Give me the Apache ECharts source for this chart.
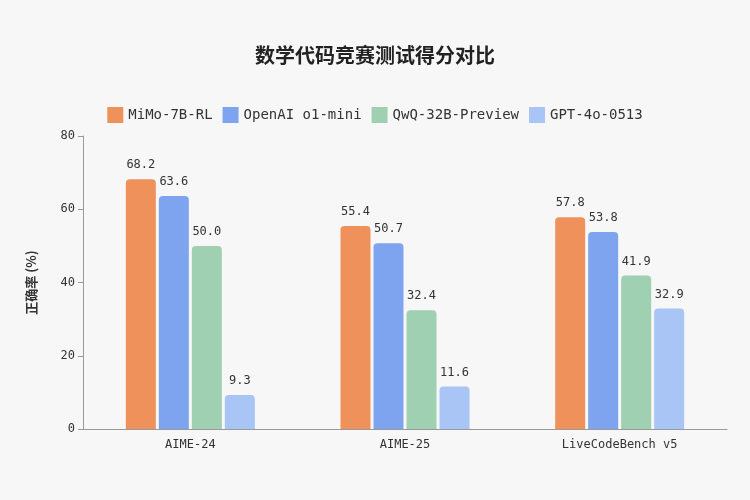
<!DOCTYPE html>
<html><head><meta charset="utf-8">
<script src="https://cdn.jsdelivr.net/npm/echarts@6/dist/echarts.min.js"></script>
<style>html,body{margin:0;background:#f7f7f7}#main{width:750px;height:500px}</style>
</head><body><div id="main"></div>
<script>
var categories = ['AIME-24', 'AIME-25', 'LiveCodeBench v5'];
var seriesNames = ['MiMo-7B-RL', 'OpenAI o1-mini', 'QwQ-32B-Preview', 'GPT-4o-0513'];
var mimo = [68.2, 55.4, 57.8];
var o1mini = [63.6, 50.7, 53.8];
var qwq = [50.0, 32.4, 41.9];
var gpt4o = [9.3, 11.6, 32.9];
var colors = ['#ef915b', '#7ea3ef', '#9fd0b1', '#a8c5f6'];
var mono = '"DejaVu Sans Mono", monospace';

var myChart = echarts.init(document.getElementById('main'));
var all = [mimo, o1mini, qwq, gpt4o];
var series = [];
for (var i = 0; i < all.length; i++) {
	series.push({
		name: seriesNames[i],
		type: 'bar',
		data: all[i],
		barWidth: 30,
		barGap: '10%',
		itemStyle: {color: colors[i], borderRadius: [4, 4, 0, 0]},
		label: {show: true, position: 'top', distance: 8, fontFamily: mono, fontSize: 12, color: '#333',
			formatter: function (p) { return p.value.toFixed(1); }}
	});
}
myChart.setOption({
	backgroundColor: '#f7f7f7',
	title: {text: '数学代码竞赛测试得分对比', left: 'center', top: 40,
		textStyle: {fontFamily: 'Noto Sans CJK SC', fontSize: 20, fontWeight: 'bold', color: '#222'}},
	legend: {top: 102, left: 'center', itemWidth: 16, itemHeight: 16, itemGap: 10, icon: 'rect',
		textStyle: {fontFamily: mono, fontSize: 14, color: '#333'}},
	grid: {left: 83, right: 23, top: 136, bottom: 71},
	xAxis: {type: 'category', data: categories,
		axisLine: {lineStyle: {color: '#999'}}, axisTick: {show: false},
		axisLabel: {fontFamily: mono, fontSize: 12, color: '#333', margin: 10}},
	yAxis: {type: 'value', min: 0, max: 80, interval: 20,
		name: '正确率 (%)', nameLocation: 'middle', nameGap: 45, nameRotate: 90,
		nameTextStyle: {fontFamily: 'Noto Sans CJK SC', fontSize: 13, fontWeight: 'bold', color: '#333'},
		axisLine: {show: true, lineStyle: {color: '#999'}}, axisTick: {show: true, lineStyle: {color: '#999'}},
		splitLine: {show: false},
		axisLabel: {fontFamily: mono, fontSize: 12, color: '#333'}},
	series: series
});
</script></body></html>
